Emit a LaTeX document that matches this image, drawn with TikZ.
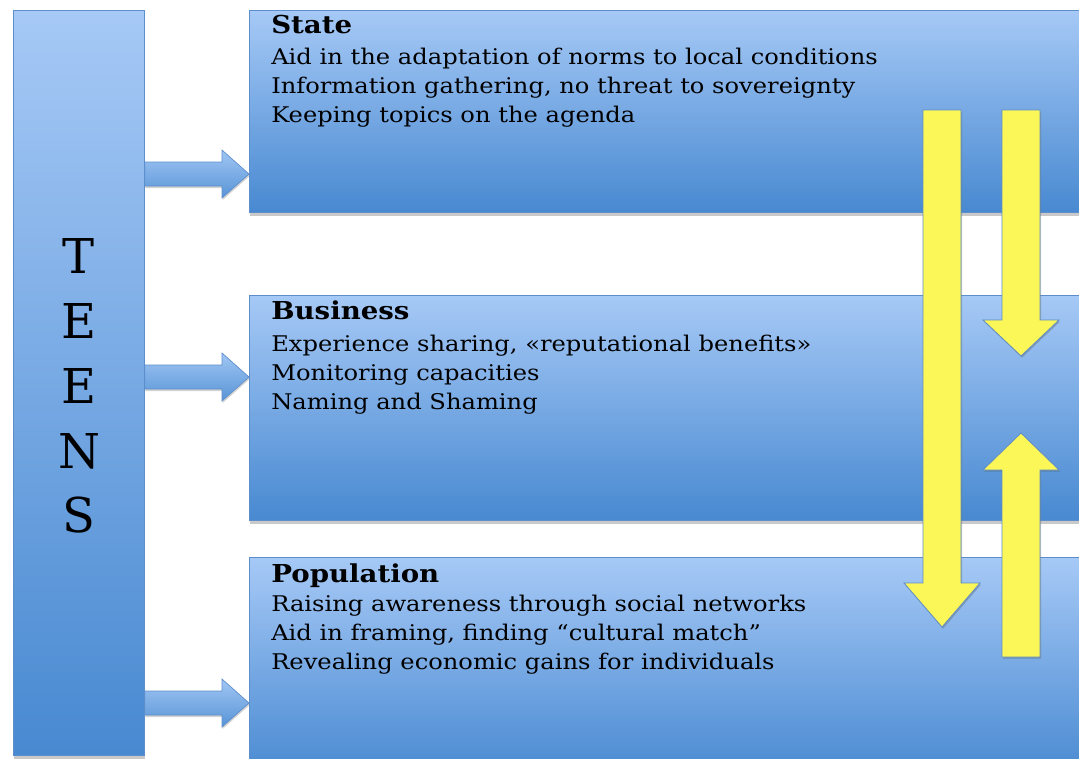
\documentclass[tikz,border=0pt]{standalone}
\usepackage{fontspec}
\setmainfont{DejaVu Serif}
\newfontfamily\panelfont[FakeStretch=1.12]{DejaVu Serif}
\usetikzlibrary{calc,shadows}

\definecolor{boxtop}{RGB}{166,201,246}
\definecolor{boxbot}{RGB}{72,137,209}
\definecolor{boxline}{RGB}{92,142,204}
\definecolor{arrowtop}{RGB}{160,198,244}
\definecolor{arrowbot}{RGB}{88,148,214}
\definecolor{yel}{RGB}{252,247,88}
\definecolor{yelline}{RGB}{96,140,196}

\tikzset{
  panel/.style={rectangle, inner sep=0pt, anchor=north west,
    draw=boxline, line width=0.6pt, top color=boxtop, bottom color=boxbot,
    drop shadow={shadow xshift=0.5pt, shadow yshift=-2.5pt, opacity=0.3, fill=black!70}},
  heading/.style={anchor=base west, inner sep=0pt, font=\panelfont\fontsize{18.5}{22}\selectfont\bfseries},
  item/.style={anchor=base west, inner sep=0pt, font=\panelfont\fontsize{16.2}{20}\selectfont},
  letter/.style={anchor=base, inner sep=0pt, font=\fontsize{36}{40}\selectfont},
  bluearrow/.style={draw=boxline, line width=0.5pt, top color=arrowtop, bottom color=arrowbot,
    drop shadow={shadow xshift=0.5pt, shadow yshift=-1.5pt, opacity=0.25, fill=black!70}},
  yellowarrow/.style={fill=yel, draw=yelline, line width=0.6pt, line join=miter,
    drop shadow={shadow xshift=0.8pt, shadow yshift=-1.2pt, opacity=0.3, fill=black!70}},
}

% block arrow from the east side of #1 to the west side of #2 at height #3
\newcommand\linkarrow[3]{%
  \draw[bluearrow]
    ($(#1.east |- 0,#3)+(0,-12)$) -- ($(#2.west |- 0,#3)+(-27,-12)$)
    -- ($(#2.west |- 0,#3)+(-27,-24)$) -- (#2.west |- 0,#3)
    -- ($(#2.west |- 0,#3)+(-27,24)$) -- ($(#2.west |- 0,#3)+(-27,12)$)
    -- ($(#1.east |- 0,#3)+(0,12)$) -- cycle;}

% vertical yellow arrow: x of shaft centre, tail y, head base y, tip y
\newcommand\flowarrow[4]{%
  \draw[yellowarrow]
    ($(#1,#2)+(-19,0)$) -- ($(#1,#3)+(-19,0)$) -- ($(#1,#3)+(-38,0)$)
    -- (#1,#4) -- ($(#1,#3)+(38,0)$) -- ($(#1,#3)+(19,0)$)
    -- ($(#1,#2)+(19,0)$) -- cycle;}

\begin{document}
\begin{tikzpicture}[x=0.75pt, y=-0.75pt]
  \useasboundingbox (0,0) rectangle (1079,758);
  \clip (0,0) rectangle (1079,758);

  % left column
  \node[panel, minimum width=98.25pt, minimum height=558.75pt] (teens) at (13,10) {};
  \node[letter] (l1) at (79,273) {T};
  \node[letter] (l2) at (79,338) {E};
  \node[letter] (l3) at (79,403) {E};
  \node[letter] (l4) at (79,468) {N};
  \node[letter] (l5) at (79,532) {S};

  % three target panels
  \node[panel, minimum width=630pt, minimum height=151.5pt] (state) at (249,10) {};
  \node[panel, minimum width=630pt, minimum height=168.75pt] (business) at (249,295) {};
  \node[panel, minimum width=630pt, minimum height=165pt] (population) at (249,557) {};

  % panel texts
  \node[heading] (stateH) at (271,33) {State};
  \node[item] (state1) at (271,64) {Aid in the adaptation of norms to local conditions};
  \node[item] (state2) at (271,93) {Information gathering, no threat to sovereignty};
  \node[item] (state3) at (271,122) {Keeping topics on the agenda};

  \node[heading] (businessH) at (271,319) {Business};
  \node[item] (business1) at (271,351) {Experience sharing, «reputational benefits»};
  \node[item] (business2) at (271,380) {Monitoring capacities};
  \node[item] (business3) at (271,409) {Naming and Shaming};

  \node[heading] (populationH) at (271,582) {Population};
  \node[item] (population1) at (271,611) {Raising awareness through social networks};
  \node[item] (population2) at (271,640) {Aid in framing, finding “cultural match”};
  \node[item] (population3) at (271,669) {Revealing economic gains for individuals};

  % links from the left column
  \linkarrow{teens}{state}{174}
  \linkarrow{teens}{business}{377}
  \linkarrow{teens}{population}{703}

  % vertical flows between the panels
  \flowarrow{942}{110}{583}{627}
  \flowarrow{1021}{110}{320}{356}
  \flowarrow{1021}{657}{470}{433}
\end{tikzpicture}
\end{document}
